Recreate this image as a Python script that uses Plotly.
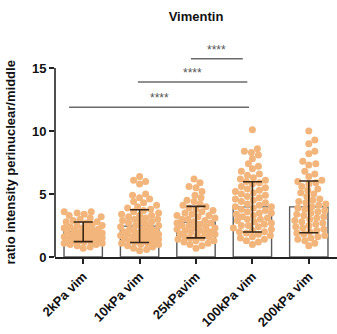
import plotly.graph_objects as go

categories = ["2kPa vim", "10kPa vim", "25kPavim", "100kPa vim", "200kPa vim"]
means = [2.0, 2.45, 2.77, 3.98, 3.98]
sds = [0.78, 1.3, 1.25, 2.0, 2.05]

g2 = [0.7, 0.8, 0.9, 1.0, 1.0, 1.1, 1.1, 1.2, 1.2, 1.3, 1.3, 1.4, 1.4, 1.5, 1.5, 1.5, 1.6, 1.6,
      1.7, 1.7, 1.8, 1.8, 1.9, 1.9, 2.0, 2.0, 2.1, 2.1, 2.2, 2.2, 2.3, 2.3, 2.4, 2.5, 2.5, 2.6,
      2.7, 2.8, 2.8, 2.9, 3.0, 3.1, 3.2, 3.3, 3.4, 3.5, 3.6, 3.6]
g10 = [0.5, 0.6, 0.7, 0.8, 0.9, 1.0, 1.0, 1.1, 1.1, 1.2, 1.2, 1.3, 1.3, 1.4, 1.4, 1.5, 1.5, 1.6,
       1.6, 1.7, 1.7, 1.8, 1.8, 1.9, 1.9, 2.0, 2.0, 2.1, 2.1, 2.2, 2.2, 2.3, 2.4, 2.5, 2.5, 2.6,
       2.7, 2.8, 2.8, 2.9, 3.0, 3.0, 3.1, 3.2, 3.3, 3.3, 3.4, 3.5, 3.6, 3.7, 3.8, 3.9, 4.0, 4.1,
       4.3, 4.4, 4.6, 4.7, 4.9, 5.0, 5.8, 6.0, 6.1, 6.4]
g25 = [0.7, 0.9, 1.0, 1.1, 1.2, 1.3, 1.3, 1.4, 1.5, 1.5, 1.6, 1.6, 1.7, 1.8, 1.8, 1.9, 2.0, 2.0,
       2.1, 2.1, 2.2, 2.3, 2.3, 2.4, 2.5, 2.5, 2.6, 2.7, 2.7, 2.8, 2.9, 3.0, 3.0, 3.1, 3.2, 3.3,
       3.3, 3.4, 3.5, 3.6, 3.7, 3.8, 3.9, 4.0, 4.1, 4.2, 4.4, 4.5, 4.7, 4.9, 5.2, 5.5, 5.6, 5.9, 6.2]
g100 = [1.0, 1.2, 1.3, 1.4, 1.5, 1.6, 1.7, 1.8, 1.9, 2.0, 2.0, 2.1, 2.2, 2.3, 2.4, 2.5, 2.5, 2.6,
        2.7, 2.8, 2.9, 3.0, 3.0, 3.1, 3.2, 3.3, 3.4, 3.5, 3.5, 3.6, 3.7, 3.8, 3.9, 4.0, 4.0, 4.1,
        4.2, 4.3, 4.4, 4.5, 4.6, 4.7, 4.8, 4.9, 5.0, 5.1, 5.2, 5.3, 5.4, 5.5, 5.6, 5.8, 5.9, 6.0,
        6.1, 6.2, 6.3, 6.5, 6.6, 6.8, 7.0, 7.2, 7.4, 7.8, 8.1, 8.3, 8.4, 8.6, 10.1]
g200 = [0.9, 1.1, 1.3, 1.4, 1.5, 1.6, 1.7, 1.8, 1.9, 2.0, 2.1, 2.2, 2.3, 2.4, 2.5, 2.6, 2.7, 2.8,
        2.9, 3.0, 3.1, 3.2, 3.3, 3.4, 3.5, 3.6, 3.7, 3.8, 3.9, 4.0, 4.1, 4.2, 4.3, 4.4, 4.5, 4.6,
        4.8, 5.0, 5.1, 5.3, 5.4, 5.6, 5.8, 5.9, 6.0, 6.1, 6.4, 6.6, 6.8, 7.3, 7.4, 7.6, 8.2, 8.4,
        9.0, 9.3, 10.0]
groups = [g2, g10, g25, g100, g200]

# significance comparisons: (x start, x end, y level)
sig_x0 = [-0.25, 0.97, 1.91]
sig_x1 = [2.94, 2.91, 2.83]
sig_y = [11.9, 13.9, 15.75]
sig_text = ["****", "****", "****"]

# ---- layout geometry for beeswarm (pixel scales of the axes) ----
W, H = 337, 334
ML, MR, MT, MB = 55, 0, 53, 77
YMAX = 16.2
px_x = (W - ML - MR) / 5.0
px_y = (H - MT - MB) / YMAX
DOT = 7
MIN_D = 6.3
MAX_OFF = 19


def swarm(vals):
    placed = []
    order = sorted(range(len(vals)), key=lambda i: vals[i])
    res = [0.0] * len(vals)
    cands = [0]
    for k in range(1, MAX_OFF + 1):
        cands += [k, -k]
    for i in order:
        yp = vals[i] * px_y
        best, bestd = 0, -1
        chosen = None
        for c in cands:
            md = min([((c - px) ** 2 + (yp - py) ** 2) ** 0.5 for px, py in placed] or [1e9])
            if md >= MIN_D:
                chosen = c
                break
            if md > bestd:
                bestd, best = md, c
        if chosen is None:
            chosen = best
        placed.append((chosen, yp))
        res[i] = chosen / px_x
    return res


FONT = "Liberation Sans"
fig = go.Figure()
xi = list(range(len(categories)))
fig.add_trace(go.Bar(x=xi, y=means, width=0.68,
                     marker=dict(color="white", line=dict(color="#5a5a5a", width=1.4)),
                     showlegend=False, hoverinfo="skip"))

for k, g in enumerate(groups):
    offs = swarm(g)
    fig.add_trace(go.Scatter(x=[k + o for o in offs], y=g, mode="markers",
                             marker=dict(size=DOT, color="#F2B57C", line=dict(width=0)),
                             showlegend=False))

fig.add_trace(go.Scatter(x=xi, y=means, mode="markers", marker=dict(size=1, opacity=0),
                         error_y=dict(type="data", array=sds, visible=True,
                                      color="#3a2614", thickness=1.6, width=9.5),
                         showlegend=False))

shapes = []
for a, b, y in zip(sig_x0, sig_x1, sig_y):
    shapes.append(dict(type="line", xref="x", yref="y", x0=a, x1=b, y0=y, y1=y,
                       line=dict(color="#6b6b6b", width=1.5)))
shapes.append(dict(type="line", xref="paper", yref="y", x0=0, x1=0, y0=0, y1=15,
                   line=dict(color="#222222", width=1.6)))

ann = []
for a, b, y, t in zip(sig_x0, sig_x1, sig_y, sig_text):
    ann.append(dict(x=(a + b) / 2, y=y, xref="x", yref="y", text=t, showarrow=False,
                    yanchor="bottom", yshift=0,
                    font=dict(size=12, color="#555555", family=FONT)))
ann.append(dict(x=-0.156, y=7.5, xref="paper", yref="y", text="ratio intensity perinuclear/middle",
                textangle=-90, showarrow=False, xanchor="center", yanchor="middle",
                font=dict(size=13, color="#111111", family=FONT, weight="bold")))

fig.update_layout(
    width=W, height=H,
    margin=dict(l=ML, r=MR, t=MT, b=MB, autoexpand=False),
    plot_bgcolor="white", paper_bgcolor="white",
    title=dict(text="Vimentin", x=0.5, xref="paper", y=1 - 16 / H, yref="container",
               xanchor="center", yanchor="middle",
               font=dict(size=13, color="#111111", family=FONT, weight="bold")),
    shapes=shapes, annotations=ann,
    xaxis=dict(range=[-0.5, 4.5], tickvals=xi, ticktext=categories, tickangle=-45,
               automargin=False,
               showline=True, linecolor="#222222", linewidth=1.6, ticks="outside",
               ticklen=5, tickwidth=1.6, tickcolor="#222222", showgrid=False, zeroline=False,
               tickfont=dict(size=13, color="#111111", family=FONT, weight="bold")),
    yaxis=dict(range=[0, YMAX], tickvals=[0, 5, 10, 15], showline=False, showgrid=False,
               automargin=False,
               zeroline=False, ticks="outside", ticklen=5, tickwidth=1.6, tickcolor="#222222",
               tickfont=dict(size=13, color="#111111", family=FONT, weight="bold")),
)

fig.write_html("out.html", config={"displayModeBar": False},
               post_script="document.body.style.margin='0';document.body.style.overflow='hidden';")
